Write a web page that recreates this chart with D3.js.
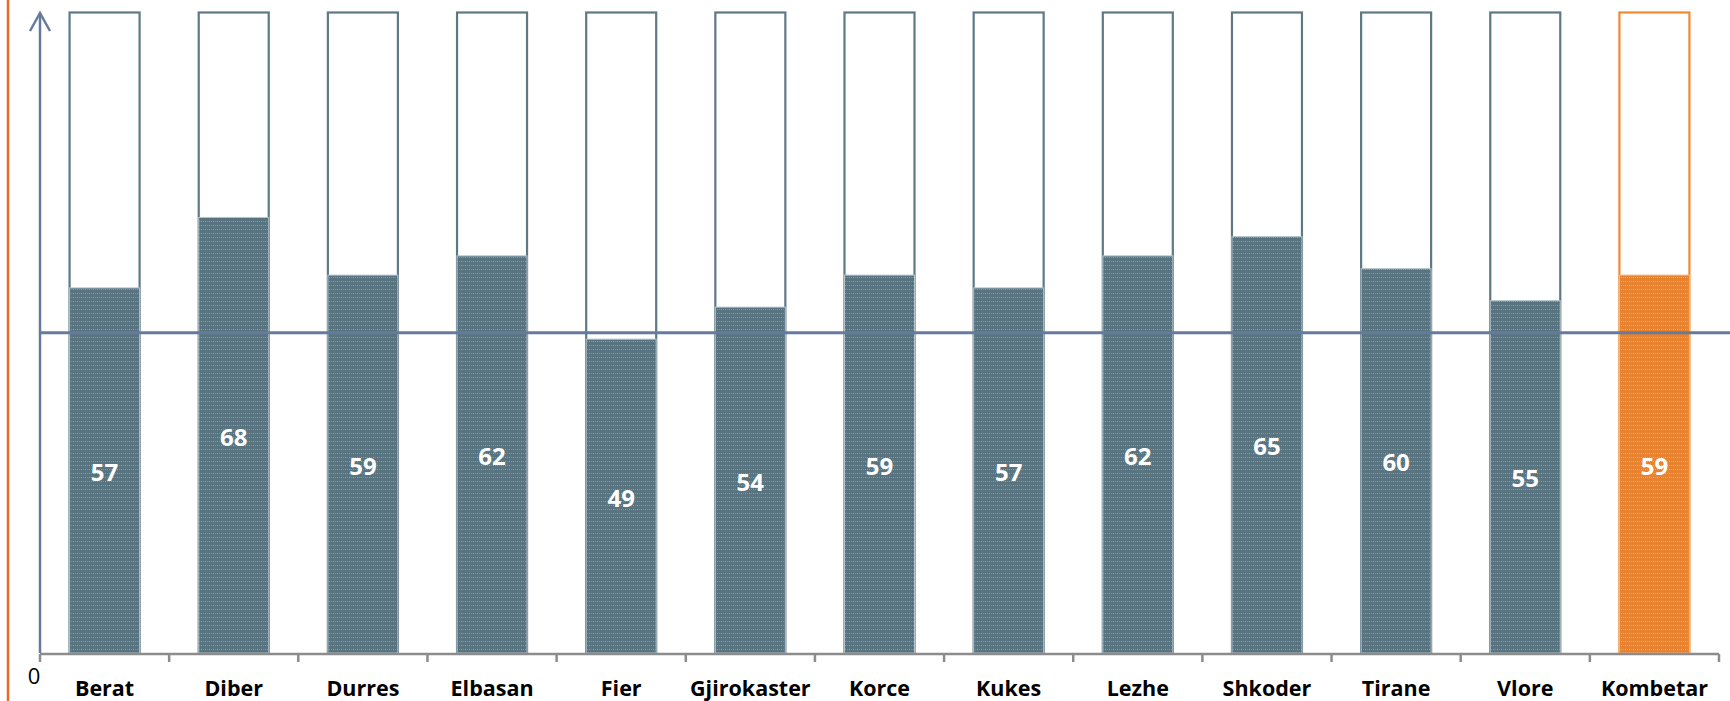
<!DOCTYPE html>
<html>
<head>
<meta charset="utf-8">
<script src="https://cdn.jsdelivr.net/npm/d3@7"></script>
<style>
  html, body { margin: 0; padding: 0; background: #fff; }
  svg { display: block; }
  text { font-family: "Open Sans", "Liberation Sans", sans-serif; }
</style>
</head>
<body>
<svg id="chart" width="1730" height="701"></svg>
<script>
const categories = ["Berat", "Diber", "Durres", "Elbasan", "Fier", "Gjirokaster", "Korce", "Kukes", "Lezhe", "Shkoder", "Tirane", "Vlore", "Kombetar"];
const values = [57, 68, 59, 62, 49, 54, 59, 57, 62, 65, 60, 55, 59];
const highlight = ["Kombetar"];
const referenceValue = [50];
const yMax = 100;
const yTickLabels = ["0"];

const svg = d3.select("#chart");
const W = 1730, H = 701;

const x = d3.scaleBand().domain(categories).range([40, 1719]).paddingInner(0.458).paddingOuter(0.229);
const y = d3.scaleLinear().domain([0, yMax]).range([653, 12.5]);

// patterns
const defs = svg.append("defs");
function makePattern(id, base, dot) {
  const p = defs.append("pattern").attr("id", id).attr("patternUnits", "userSpaceOnUse")
    .attr("width", 4).attr("height", 4);
  p.append("rect").attr("width", 4).attr("height", 4).attr("fill", base);
  p.append("rect").attr("x", 1).attr("y", 1).attr("width", 1).attr("height", 1).attr("fill", dot);
  p.append("rect").attr("x", 3).attr("y", 1).attr("width", 1).attr("height", 1).attr("fill", dot).attr("opacity", 0.6);
}
makePattern("patGray", "#587480", "#8ea3ad");
makePattern("patOrange", "#e9822e", "#f4b47c");

// left orange border line
svg.append("line").attr("x1", 8).attr("x2", 8).attr("y1", 0).attr("y2", H)
  .attr("stroke", "#ea6a24").attr("stroke-width", 2.5);

const isHi = d => highlight.includes(d);
const data = categories.map((c, i) => ({ c, v: values[i] }));

// full outline bars (100%)
svg.append("g").selectAll("rect").data(data).join("rect")
  .attr("x", d => x(d.c)).attr("width", x.bandwidth())
  .attr("y", y(yMax)).attr("height", y(0) - y(yMax))
  .attr("fill", "#fff")
  .attr("stroke", d => isHi(d.c) ? "#ed8a36" : "#5e7986")
  .attr("stroke-width", 2.2);

// filled bars
svg.append("g").selectAll("rect").data(data).join("rect")
  .attr("x", d => x(d.c)).attr("width", x.bandwidth())
  .attr("y", d => y(d.v)).attr("height", d => y(0) - y(d.v))
  .attr("fill", d => isHi(d.c) ? "url(#patOrange)" : "url(#patGray)")
  .attr("stroke", d => isHi(d.c) ? "#f2b786" : "#b3c3ca")
  .attr("stroke-width", 1);

// reference line
svg.append("line").attr("x1", 40).attr("x2", W)
  .attr("y1", y(referenceValue[0])).attr("y2", y(referenceValue[0]))
  .attr("stroke", "#667b9c").attr("stroke-width", 2.8);

// value labels
svg.append("g").selectAll("text").data(data).join("text")
  .attr("x", d => x(d.c) + x.bandwidth() / 2)
  .attr("y", d => (y(d.v) + y(0)) / 2 + 1)
  .attr("text-anchor", "middle").attr("dominant-baseline", "central")
  .attr("fill", "#fff").attr("font-weight", "bold").attr("font-size", 24)
  .text(d => d.v);

// x axis
const step = x.step();
const xa = svg.append("g");
xa.append("line").attr("x1", 40).attr("x2", 40 + step * categories.length)
  .attr("y1", 654).attr("y2", 654).attr("stroke", "#8c8c8c").attr("stroke-width", 2.5);
xa.selectAll("line.tick").data(d3.range(categories.length + 1)).join("line")
  .attr("class", "tick")
  .attr("x1", i => 40 + i * step).attr("x2", i => 40 + i * step)
  .attr("y1", 654).attr("y2", 662).attr("stroke", "#8c8c8c").attr("stroke-width", 2.5);
xa.selectAll("text").data(categories).join("text")
  .attr("x", d => x(d) + x.bandwidth() / 2).attr("y", 696)
  .attr("text-anchor", "middle")
  .attr("font-weight", "bold").attr("font-size", 21.5).attr("fill", "#000")
  .text(d => d);

// y axis with arrow
svg.append("line").attr("x1", 40).attr("x2", 40).attr("y1", 14).attr("y2", 653)
  .attr("stroke", "#667b9c").attr("stroke-width", 2.5);
svg.append("path").attr("d", "M30,31 L40,13 L50,31")
  .attr("fill", "none").attr("stroke", "#667b9c").attr("stroke-width", 2.5);
svg.append("text").attr("x", 34).attr("y", 684).attr("text-anchor", "middle")
  .attr("font-size", 22).attr("fill", "#000")
  .text(yTickLabels[0]);
</script>
</body>
</html>
